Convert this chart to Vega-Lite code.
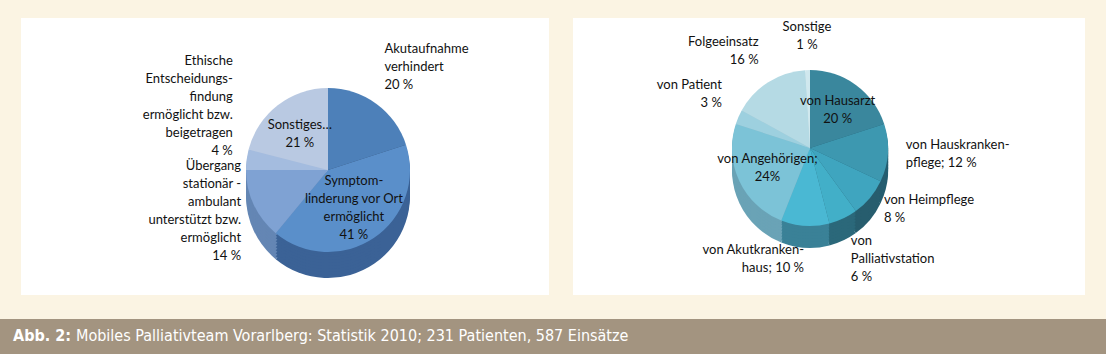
{
  "$schema": "https://vega.github.io/schema/vega-lite/v6.json",
  "background": "#fbf4e3",
  "padding": {"left": 0, "top": 18, "right": 0, "bottom": 0},
  "config": {"view": {"stroke": null}, "text": {"font": "Lato", "fontSize": 13, "lineHeight": 18, "color": "#111111", "lineBreak": "\n"}},
  "spacing": 24,
  "center": true,
  "vconcat": [
    {
      "spacing": 24,
      "bounds": "flush",
      "resolve": {"scale": {"color": "independent", "fill": "independent", "theta": "independent"}},
      "hconcat": [
        {
          "width": 528, "height": 277,
          "view": {"fill": "#ffffff", "stroke": null},
          "data": {"values": [
            {"i": 1, "name": "Akutaufnahme verhindert", "value": 20, "label": "Akutaufnahme\nverhindert\n20 %"},
            {"i": 2, "name": "Symptomlinderung vor Ort ermöglicht", "value": 41, "label": "Symptom-\nlinderung vor Ort\nermöglicht\n41 %"},
            {"i": 3, "name": "Übergang stationär - ambulant", "value": 14, "label": "Übergang\nstationär -\nambulant\nunterstützt bzw.\nermöglicht\n14 %"},
            {"i": 4, "name": "Ethische Entscheidungsfindung", "value": 4, "label": "Ethische\nEntscheidungs-\nfindung\nermöglicht bzw.\nbeigetragen\n4 %"},
            {"i": 5, "name": "Sonstiges", "value": 21, "label": "Sonstiges…\n21 %"}
          ]},
          "transform": [
            {"window": [{"op": "sum", "field": "value", "as": "cum"}], "sort": [{"field": "i"}], "frame": [null, 0]},
            {"joinaggregate": [{"op": "sum", "field": "value", "as": "total"}]},
            {"calculate": "2 * PI * (datum.cum - datum.value / 2) / datum.total", "as": "ang"},
            {"calculate": "length(split(datum.label, '\\n'))", "as": "nl"}
          ],
          "layer": [
            {"mark": {"type": "arc", "outerRadius": 82, "xOffset": 43, "yOffset": 39.5},
             "encoding": {"theta": {"field": "value", "type": "quantitative", "stack": true}, "order": {"field": "i"},
               "fill": {"field": "name", "type": "nominal", "legend": null, "scale": {"domain": ["Akutaufnahme verhindert", "Symptomlinderung vor Ort ermöglicht", "Übergang stationär - ambulant", "Ethische Entscheidungsfindung", "Sonstiges"], "range": ["#2c4669", "#3b6296", "#6486b4", "#8aa6cf", "#a7bcdb"]}}}},
            {"mark": {"type": "arc", "outerRadius": 82, "xOffset": 43, "yOffset": 36.5},
             "encoding": {"theta": {"field": "value", "type": "quantitative", "stack": true}, "order": {"field": "i"},
               "fill": {"field": "name", "type": "nominal", "legend": null}}},
            {"mark": {"type": "arc", "outerRadius": 82, "xOffset": 43, "yOffset": 33.5},
             "encoding": {"theta": {"field": "value", "type": "quantitative", "stack": true}, "order": {"field": "i"},
               "fill": {"field": "name", "type": "nominal", "legend": null}}},
            {"mark": {"type": "arc", "outerRadius": 82, "xOffset": 43, "yOffset": 30.5},
             "encoding": {"theta": {"field": "value", "type": "quantitative", "stack": true}, "order": {"field": "i"},
               "fill": {"field": "name", "type": "nominal", "legend": null}}},
            {"mark": {"type": "arc", "outerRadius": 82, "xOffset": 43, "yOffset": 27.5},
             "encoding": {"theta": {"field": "value", "type": "quantitative", "stack": true}, "order": {"field": "i"},
               "fill": {"field": "name", "type": "nominal", "legend": null}}},
            {"mark": {"type": "arc", "outerRadius": 82, "xOffset": 43, "yOffset": 24.5},
             "encoding": {"theta": {"field": "value", "type": "quantitative", "stack": true}, "order": {"field": "i"},
               "fill": {"field": "name", "type": "nominal", "legend": null}}},
            {"mark": {"type": "arc", "outerRadius": 82, "xOffset": 43, "yOffset": 21.5},
             "encoding": {"theta": {"field": "value", "type": "quantitative", "stack": true}, "order": {"field": "i"},
               "fill": {"field": "name", "type": "nominal", "legend": null}}},
            {"mark": {"type": "arc", "outerRadius": 82, "xOffset": 43, "yOffset": 18.5},
             "encoding": {"theta": {"field": "value", "type": "quantitative", "stack": true}, "order": {"field": "i"},
               "fill": {"field": "name", "type": "nominal", "legend": null}}},
            {"mark": {"type": "arc", "outerRadius": 82, "xOffset": 43, "yOffset": 16},
             "encoding": {"theta": {"field": "value", "type": "quantitative", "stack": true}, "order": {"field": "i"},
               "fill": {"field": "name", "type": "nominal", "legend": null}}},
            {"mark": {"type": "arc", "outerRadius": 82, "xOffset": 43, "yOffset": 13.5},
             "encoding": {"theta": {"field": "value", "type": "quantitative", "stack": true}, "order": {"field": "i"},
               "color": {"field": "name", "type": "nominal", "legend": null, "scale": {"domain": ["Akutaufnahme verhindert", "Symptomlinderung vor Ort ermöglicht", "Übergang stationär - ambulant", "Ethische Entscheidungsfindung", "Sonstiges"], "range": ["#4d80b9", "#5a8fca", "#7fa2d3", "#a4bcdf", "#b9c9e2"]}}}},
            {"transform": [{"filter": "datum.value > 20"}],
             "mark": {"type": "text", "radius": 46, "xOffset": 43, "yOffset": 13.5, "align": "center", "baseline": "middle",
               "dy": {"expr": "-(datum.nl - 1) * 9"}},
             "encoding": {"theta": {"field": "ang", "type": "quantitative", "scale": null}, "text": {"field": "label"}}},
            {"transform": [{"filter": "datum.value <= 20"}],
             "mark": {"type": "text", "radius": 96, "xOffset": 43, "yOffset": 13.5,
               "align": {"expr": "sin(datum.ang) > 0.05 ? 'left' : (sin(datum.ang) < -0.05 ? 'right' : 'center')"},
               "baseline": {"expr": "cos(datum.ang) > 0.1 ? 'bottom' : (cos(datum.ang) < -0.7 ? 'top' : 'middle')"},
               "dy": {"expr": "cos(datum.ang) > 0.1 ? -(datum.nl - 1) * 18 : (cos(datum.ang) < -0.7 ? 0 : -(datum.nl - 1) * 9)"}},
             "encoding": {"theta": {"field": "ang", "type": "quantitative", "scale": null}, "text": {"field": "label"}}}
          ]
        },
        {
          "width": 512, "height": 277,
          "view": {"fill": "#ffffff", "stroke": null},
          "data": {"values": [
            {"i": 1, "name": "von Hausarzt", "value": 20, "label": "von Hausarzt\n20 %"},
            {"i": 2, "name": "von Hauskrankenpflege", "value": 12, "label": "von Hauskranken-\npflege; 12 %"},
            {"i": 3, "name": "von Heimpflege", "value": 8, "label": "von Heimpflege\n8 %"},
            {"i": 4, "name": "von Palliativstation", "value": 6, "label": "von\nPalliativstation\n6 %"},
            {"i": 5, "name": "von Akutkrankenhaus", "value": 10, "label": "von Akutkranken-\nhaus; 10 %"},
            {"i": 6, "name": "von Angehörigen", "value": 24, "label": "von Angehörigen;\n24%"},
            {"i": 7, "name": "von Patient", "value": 3, "label": "von Patient\n3 %"},
            {"i": 8, "name": "Folgeeinsatz", "value": 16, "label": "Folgeeinsatz\n16 %"},
            {"i": 9, "name": "Sonstige", "value": 1, "label": "Sonstige\n1 %"}
          ]},
          "transform": [
            {"window": [{"op": "sum", "field": "value", "as": "cum"}], "sort": [{"field": "i"}], "frame": [null, 0]},
            {"joinaggregate": [{"op": "sum", "field": "value", "as": "total"}]},
            {"calculate": "2 * PI * (datum.cum - datum.value / 2) / datum.total", "as": "ang"},
            {"calculate": "length(split(datum.label, '\\n'))", "as": "nl"}
          ],
          "layer": [
            {"mark": {"type": "arc", "outerRadius": 78, "xOffset": -19, "yOffset": 13.5},
             "encoding": {"theta": {"field": "value", "type": "quantitative", "stack": true}, "order": {"field": "i"},
               "fill": {"field": "name", "type": "nominal", "legend": null, "scale": {"domain": ["von Hausarzt", "von Hauskrankenpflege", "von Heimpflege", "von Palliativstation", "von Akutkrankenhaus", "von Angehörigen", "von Patient", "Folgeeinsatz", "Sonstige"], "range": ["#23566a", "#255d70", "#275d6e", "#2b687a", "#3a8197", "#6aa3b6", "#86b7c7", "#9fc5d1", "#bcd9e2"]}}}},
            {"mark": {"type": "arc", "outerRadius": 78, "xOffset": -19, "yOffset": 10.5},
             "encoding": {"theta": {"field": "value", "type": "quantitative", "stack": true}, "order": {"field": "i"},
               "fill": {"field": "name", "type": "nominal", "legend": null}}},
            {"mark": {"type": "arc", "outerRadius": 78, "xOffset": -19, "yOffset": 7.5},
             "encoding": {"theta": {"field": "value", "type": "quantitative", "stack": true}, "order": {"field": "i"},
               "fill": {"field": "name", "type": "nominal", "legend": null}}},
            {"mark": {"type": "arc", "outerRadius": 78, "xOffset": -19, "yOffset": 4.5},
             "encoding": {"theta": {"field": "value", "type": "quantitative", "stack": true}, "order": {"field": "i"},
               "fill": {"field": "name", "type": "nominal", "legend": null}}},
            {"mark": {"type": "arc", "outerRadius": 78, "xOffset": -19, "yOffset": 1.5},
             "encoding": {"theta": {"field": "value", "type": "quantitative", "stack": true}, "order": {"field": "i"},
               "fill": {"field": "name", "type": "nominal", "legend": null}}},
            {"mark": {"type": "arc", "outerRadius": 78, "xOffset": -19, "yOffset": -1.5},
             "encoding": {"theta": {"field": "value", "type": "quantitative", "stack": true}, "order": {"field": "i"},
               "fill": {"field": "name", "type": "nominal", "legend": null}}},
            {"mark": {"type": "arc", "outerRadius": 78, "xOffset": -19, "yOffset": -4.5},
             "encoding": {"theta": {"field": "value", "type": "quantitative", "stack": true}, "order": {"field": "i"},
               "fill": {"field": "name", "type": "nominal", "legend": null}}},
            {"mark": {"type": "arc", "outerRadius": 78, "xOffset": -19, "yOffset": -6.5},
             "encoding": {"theta": {"field": "value", "type": "quantitative", "stack": true}, "order": {"field": "i"},
               "fill": {"field": "name", "type": "nominal", "legend": null}}},
            {"mark": {"type": "arc", "outerRadius": 78, "xOffset": -19, "yOffset": -8.5},
             "encoding": {"theta": {"field": "value", "type": "quantitative", "stack": true}, "order": {"field": "i"},
               "color": {"field": "name", "type": "nominal", "legend": null, "scale": {"domain": ["von Hausarzt", "von Hauskrankenpflege", "von Heimpflege", "von Palliativstation", "von Akutkrankenhaus", "von Angehörigen", "von Patient", "Folgeeinsatz", "Sonstige"], "range": ["#3a879d", "#3d98b0", "#3fa5bf", "#42afc8", "#4ab8d3", "#7cc3d7", "#9dd0df", "#b5dae4", "#d0e8ee"]}}}},
            {"transform": [{"filter": "datum.value >= 20"}],
             "mark": {"type": "text", "radius": 47, "xOffset": -19, "yOffset": -8.5, "align": "center", "baseline": "middle",
               "dy": {"expr": "-(datum.nl - 1) * 9"}},
             "encoding": {"theta": {"field": "ang", "type": "quantitative", "scale": null}, "text": {"field": "label"}}},
            {"transform": [{"filter": "datum.value < 20"}],
             "mark": {"type": "text", "radius": 96, "xOffset": -19, "yOffset": -8.5,
               "align": {"expr": "sin(datum.ang) > 0.05 ? 'left' : (sin(datum.ang) < -0.05 ? 'right' : 'center')"},
               "baseline": {"expr": "cos(datum.ang) > 0.1 ? 'bottom' : (cos(datum.ang) < -0.7 ? 'top' : 'middle')"},
               "dy": {"expr": "cos(datum.ang) > 0.1 ? -(datum.nl - 1) * 18 : (cos(datum.ang) < -0.7 ? 0 : -(datum.nl - 1) * 9)"}},
             "encoding": {"theta": {"field": "ang", "type": "quantitative", "scale": null}, "text": {"field": "label"}}}
          ]
        }
      ]
    },
    {
      "width": 1106, "height": 35,
      "view": {"fill": "#a39480", "stroke": null},
      "layer": [
        {"data": {"values": [{"t": "Abb. 2:"}]},
         "mark": {"type": "text", "x": 13, "y": 17, "align": "left", "baseline": "middle", "font": "DejaVu Sans Condensed, sans-serif", "fontSize": 16, "fontWeight": "bold", "color": "#ffffff"},
         "encoding": {"text": {"field": "t"}}},
        {"data": {"values": [{"t": "Mobiles Palliativteam Vorarlberg: Statistik 2010; 231 Patienten, 587 Einsätze"}]},
         "mark": {"type": "text", "x": 76, "y": 17, "align": "left", "baseline": "middle", "font": "DejaVu Sans Condensed, sans-serif", "fontSize": 16, "color": "#ffffff"},
         "encoding": {"text": {"field": "t"}}}
      ]
    }
  ]
}
